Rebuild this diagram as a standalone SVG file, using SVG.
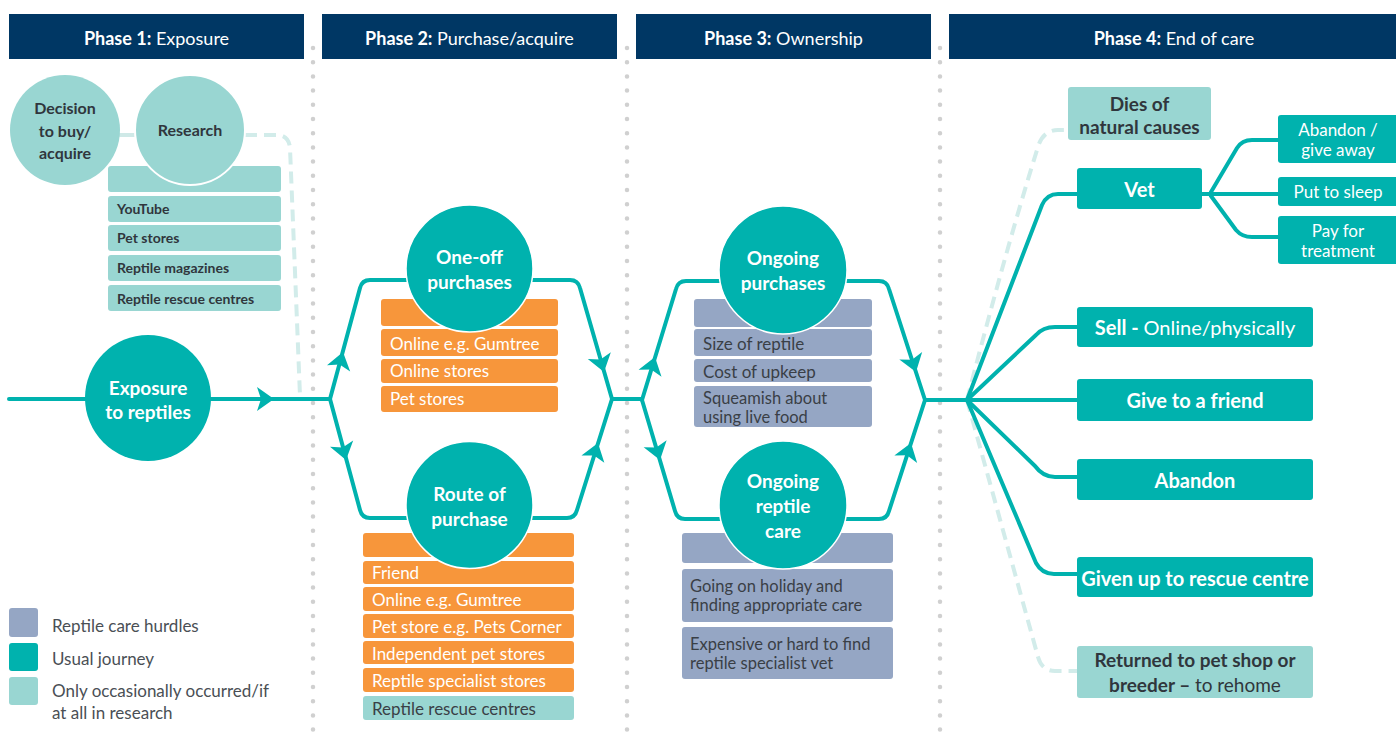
<svg xmlns="http://www.w3.org/2000/svg" width="1396" height="733" viewBox="0 0 1396 733">
<style>
text{font-family:Lato,"Open Sans",sans-serif}
.hdr{fill:#003764}
.ht{font-size:18px;fill:#fff;text-anchor:middle}
.b{font-weight:700}
.teal{fill:#00b2ae}
.lt{fill:#99d6d2}
.or{fill:#f7963b}
.pu{fill:#95a6c4}
.line{fill:none;stroke:#00b2ae;stroke-width:4;stroke-linejoin:round;stroke-linecap:round}
.dash{fill:none;stroke:#d2ecea;stroke-width:4;stroke-dasharray:12 7}
.dots{stroke:#d0d0d0;stroke-width:4.5;stroke-linecap:round;stroke-dasharray:0 14.2}
.ct{font-size:19px;font-weight:700;fill:#fff;text-anchor:middle}
.cd{font-size:16px;font-weight:700;fill:#30363d;text-anchor:middle}
.rb{font-size:14px;font-weight:700;fill:#30363d}
.bx{font-size:17px;fill:#fff}
.bxd{font-size:17px;fill:#3a3f46}
.bx2{font-size:16.5px;fill:#3a3f46}
.p4{font-size:20px;font-weight:700;fill:#fff;text-anchor:middle}
.p4d{font-size:19px;font-weight:700;fill:#30363d;text-anchor:middle}
.sb{font-size:17px;fill:#fff;text-anchor:middle}
.lg{font-size:17px;fill:#4a4f55}
.ah{fill:#00b2ae}
</style>
<defs>
<path id="ah" d="M0,0 L-17,-12 L-13,0 L-17,12 Z"/>
</defs>

<g id="separators">
<line class="dots" x1="313" y1="48" x2="313" y2="733"/>
<line class="dots" x1="627" y1="48" x2="627" y2="733"/>
<line class="dots" x1="940" y1="48" x2="940" y2="733"/>
</g>

<g id="header1"><rect class="hdr" x="9" y="14" width="295" height="45"/><text class="ht" x="156.5" y="45"><tspan class="b">Phase 1:</tspan> Exposure</text></g>
<g id="header2"><rect class="hdr" x="322" y="14" width="295" height="45"/><text class="ht" x="469.5" y="45"><tspan class="b">Phase 2:</tspan> Purchase/acquire</text></g>
<g id="header3"><rect class="hdr" x="636" y="14" width="295" height="45"/><text class="ht" x="783.5" y="45"><tspan class="b">Phase 3:</tspan> Ownership</text></g>
<g id="header4"><rect class="hdr" x="949" y="14" width="447" height="45"/><text class="ht" x="1174" y="45"><tspan class="b">Phase 4:</tspan> End of care</text></g>

<g id="connectors">
<path class="line" d="M120,135 L136,135" style="stroke:#cfe9e7"/>
<path class="dash" d="M245,135 L278,135 Q289,136 290,148 L300,396"/>
<path class="dash" d="M967,400 C985,330 1012,230 1037,150 Q1042,130 1058,130 L1068,130"/>
<path class="dash" d="M967,400 L1038,657 Q1042,671 1055,671 L1077,671"/>
<path class="line" d="M9,399 L330,399"/>
<path class="line" d="M330,399 L360,288 Q362,280 370,280 L570,280 Q578,280 580,288 L612,399"/>
<path class="line" d="M330,399 L360,510 Q362,518 370,518 L567,518 Q575,518 577,510 L612,399"/>
<path class="line" d="M612,399 L642,399"/>
<path class="line" d="M642,400 L676,289 Q678,281 686,281 L879,281 Q887,281 889,289 L925,400"/>
<path class="line" d="M642,400 L675,511 Q677,519 685,519 L879,519 Q887,519 889,511 L925,400"/>
<path class="line" d="M925,400 L1077,400"/>
<path class="line" d="M967,400 L1042,205 Q1047,194 1058,194 L1077,194"/>
<path class="line" d="M967,400 L1036,335 Q1043,327 1055,327 L1077,327"/>
<path class="line" d="M967,400 L1035,466 Q1043,477 1055,477 L1077,477"/>
<path class="line" d="M967,400 L1036,563 Q1042,574 1054,574 L1077,574"/>
<path class="line" d="M1202,194 L1278,194"/>
<path class="line" d="M1211,192 L1237,148 Q1242,140 1252,140 L1278,140"/>
<path class="line" d="M1211,196 L1236,230 Q1242,237 1252,237 L1278,237"/>
<use href="#ah" class="ah" transform="translate(274,399)"/>
<use href="#ah" class="ah" transform="translate(343,352) rotate(-75)"/>
<use href="#ah" class="ah" transform="translate(604,372) rotate(74)"/>
<use href="#ah" class="ah" transform="translate(346,460) rotate(75)"/>
<use href="#ah" class="ah" transform="translate(598,443) rotate(-72.5)"/>
<use href="#ah" class="ah" transform="translate(655,357) rotate(-73)"/>
<use href="#ah" class="ah" transform="translate(916,372) rotate(72)"/>
<use href="#ah" class="ah" transform="translate(660,460) rotate(73.4)"/>
<use href="#ah" class="ah" transform="translate(911,443) rotate(-72)"/>
</g>

<g id="decision">
<circle class="lt" cx="65" cy="130" r="55"/>
<text class="cd" x="65" y="114">Decision</text>
<text class="cd" x="65" y="137">to buy/</text>
<text class="cd" x="65" y="159">acquire</text>
</g>
<g id="research-list">
<rect class="lt" x="108" y="166" width="173" height="26" rx="3"/>
<rect class="lt" x="108" y="196" width="173" height="26" rx="3"/>
<text class="rb" x="117" y="214">YouTube</text>
<rect class="lt" x="108" y="225" width="173" height="26" rx="3"/>
<text class="rb" x="117" y="243">Pet stores</text>
<rect class="lt" x="108" y="255" width="173" height="26" rx="3"/>
<text class="rb" x="117" y="273">Reptile magazines</text>
<rect class="lt" x="108" y="285" width="173" height="26" rx="3"/>
<text class="rb" x="117" y="304">Reptile rescue centres</text>
</g>
<g id="research">
<circle class="lt" cx="190" cy="130" r="55" stroke="#fff" stroke-width="2"/>
<text class="cd" x="190" y="136">Research</text>
</g>
<g id="exposure">
<circle class="teal" cx="148" cy="398" r="63"/>
<text class="ct" x="148" y="395">Exposure</text>
<text class="ct" x="148" y="419">to reptiles</text>
</g>

<g id="oneoff-list">
<rect class="or" x="381" y="299" width="177" height="27" rx="3"/>
<rect class="or" x="381" y="329" width="177" height="27" rx="3"/>
<text class="bx" x="390" y="350">Online e.g. Gumtree</text>
<rect class="or" x="381" y="359" width="177" height="24" rx="3"/>
<text class="bx" x="390" y="377">Online stores</text>
<rect class="or" x="381" y="386" width="177" height="26" rx="3"/>
<text class="bx" x="390" y="405">Pet stores</text>
</g>
<g id="oneoff">
<circle class="teal" cx="469.5" cy="268.5" r="63.5" stroke="#fff" stroke-width="1.5"/>
<text class="ct" x="469.5" y="264">One-off</text>
<text class="ct" x="469.5" y="289">purchases</text>
</g>
<g id="route-list">
<rect class="or" x="363" y="533" width="211" height="24" rx="3"/>
<rect class="or" x="363" y="561" width="211" height="23" rx="3"/>
<text class="bx" x="372" y="579">Friend</text>
<rect class="or" x="363" y="587" width="211" height="24" rx="3"/>
<text class="bx" x="372" y="606">Online e.g. Gumtree</text>
<rect class="or" x="363" y="614" width="211" height="24" rx="3"/>
<text class="bx" x="372" y="633">Pet store e.g. Pets Corner</text>
<rect class="or" x="363" y="641" width="211" height="23" rx="3"/>
<text class="bx" x="372" y="660">Independent pet stores</text>
<rect class="or" x="363" y="668" width="211" height="24" rx="3"/>
<text class="bx" x="372" y="687">Reptile specialist stores</text>
<rect class="lt" x="363" y="696" width="211" height="24" rx="3"/>
<text class="bxd" x="372" y="715">Reptile rescue centres</text>
</g>
<g id="route">
<circle class="teal" cx="469.5" cy="505" r="63.5" stroke="#fff" stroke-width="1.5"/>
<text class="ct" x="469.5" y="501">Route of</text>
<text class="ct" x="469.5" y="526">purchase</text>
</g>

<g id="ongoing-purchases-list">
<rect class="pu" x="694" y="299" width="178" height="28" rx="3"/>
<rect class="pu" x="694" y="329" width="178" height="27" rx="3"/>
<text class="bxd" x="703" y="350">Size of reptile</text>
<rect class="pu" x="694" y="359" width="178" height="23" rx="3"/>
<text class="bxd" x="703" y="378">Cost of upkeep</text>
<rect class="pu" x="694" y="386" width="178" height="41" rx="3"/>
<text class="bx2" x="703" y="404">Squeamish about</text>
<text class="bx2" x="703" y="422.5">using live food</text>
</g>
<g id="ongoing-purchases">
<circle class="teal" cx="783" cy="270" r="64" stroke="#fff" stroke-width="1.5"/>
<text class="ct" x="783" y="265">Ongoing</text>
<text class="ct" x="783" y="290">purchases</text>
</g>
<g id="ongoing-care-list">
<rect class="pu" x="682" y="533" width="211" height="30" rx="3"/>
<rect class="pu" x="682" y="569" width="211" height="53" rx="3"/>
<text class="bx2" x="690" y="592">Going on holiday and</text>
<text class="bx2" x="690" y="611">finding appropriate care</text>
<rect class="pu" x="682" y="627" width="211" height="52" rx="3"/>
<text class="bx2" x="690" y="650">Expensive or hard to find</text>
<text class="bx2" x="690" y="669">reptile specialist vet</text>
</g>
<g id="ongoing-care">
<circle class="teal" cx="783" cy="505" r="64" stroke="#fff" stroke-width="1.5"/>
<text class="ct" x="783" y="488">Ongoing</text>
<text class="ct" x="783" y="513">reptile</text>
<text class="ct" x="783" y="538">care</text>
</g>

<g id="dies"><rect class="lt" x="1068" y="87" width="143" height="53" rx="3"/><text class="p4d" x="1139.5" y="111">Dies of</text><text class="p4d" x="1139.5" y="133.5">natural causes</text></g>
<g id="vet"><rect class="teal" x="1077" y="168" width="125" height="41" rx="3"/><text class="p4" x="1139.5" y="197">Vet</text></g>
<g id="abandon-give"><rect class="teal" x="1278" y="115" width="125" height="48" rx="3"/><text class="sb" x="1338" y="136">Abandon /</text><text class="sb" x="1338" y="156">give away</text></g>
<g id="sleep"><rect class="teal" x="1278" y="177" width="125" height="29" rx="3"/><text class="sb" x="1338" y="198">Put to sleep</text></g>
<g id="treatment"><rect class="teal" x="1278" y="216" width="125" height="48" rx="3"/><text class="sb" x="1338" y="237">Pay for</text><text class="sb" x="1338" y="257">treatment</text></g>
<g id="sell"><rect class="teal" x="1077" y="307" width="236" height="40" rx="3"/><text class="p4" x="1195" y="335">Sell - <tspan font-weight="400">Online/physically</tspan></text></g>
<g id="friend"><rect class="teal" x="1077" y="379" width="236" height="42" rx="3"/><text class="p4" x="1195" y="408">Give to a friend</text></g>
<g id="abandon"><rect class="teal" x="1077" y="459" width="236" height="41" rx="3"/><text class="p4" x="1195" y="488">Abandon</text></g>
<g id="rescue"><rect class="teal" x="1077" y="557" width="236" height="40" rx="3"/><text class="p4" x="1195" y="586">Given up to rescue centre</text></g>
<g id="returned"><rect class="lt" x="1077" y="646" width="236" height="52" rx="3"/><text class="p4d" x="1195" y="667">Returned to pet shop or</text><text class="p4d" x="1195" y="692">breeder – <tspan font-weight="400">to rehome</tspan></text></g>

<g id="legend">
<rect class="pu" x="9" y="608" width="29" height="29" rx="3"/>
<text class="lg" x="52" y="632">Reptile care hurdles</text>
<rect class="teal" x="9" y="643" width="29" height="28" rx="3"/>
<text class="lg" x="52" y="665">Usual journey</text>
<rect class="lt" x="9" y="677" width="29" height="28" rx="3"/>
<text class="lg" x="52" y="697">Only occasionally occurred/if</text>
<text class="lg" x="52" y="719">at all in research</text>
</g>
</svg>
